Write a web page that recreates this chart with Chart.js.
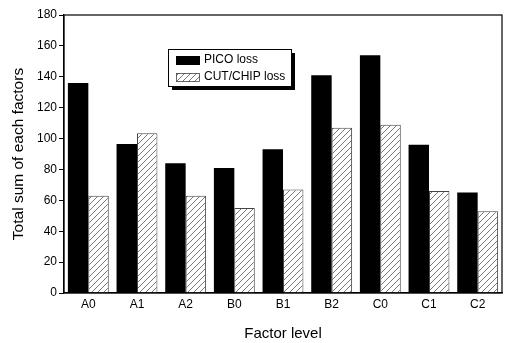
<!DOCTYPE html>
<html>
<head>
<meta charset="utf-8">
<script src="https://cdn.jsdelivr.net/npm/chart.js@4"></script>
<style>
  html, body { margin: 0; padding: 0; background: #fff; }
  #wrap { width: 505px; height: 343px; position: relative; }
</style>
</head>
<body>
<div id="wrap"><canvas id="bar-factors"></canvas></div>
<script>
const categories = ["A0", "A1", "A2", "B0", "B1", "B2", "C0", "C1", "C2"];
const picoLoss = [136, 96.5, 84, 81, 93, 141, 154, 96, 65];
const cutChipLoss = [63, 103.5, 63, 55, 67, 107, 109, 66, 53];
const yTicks = [0, 20, 40, 60, 80, 100, 120, 140, 160, 180];

var canvas = document.getElementById("bar-factors");
var ctx = canvas.getContext("2d");

// diagonal hatch for the second series
const makeHatch = () => {
  var p = document.createElement("canvas");
  p.width = 6;
  p.height = 6;
  var pc = p.getContext("2d");
  pc.fillStyle = "#fff";
  pc.fillRect(0, 0, 6, 6);
  pc.strokeStyle = "#555";
  pc.lineWidth = 0.8;
  pc.beginPath();
  pc.moveTo(0, 6);
  pc.lineTo(6, 0);
  pc.moveTo(-1, 1);
  pc.lineTo(1, -1);
  pc.moveTo(5, 7);
  pc.lineTo(7, 5);
  pc.stroke();
  return ctx.createPattern(p, "repeat");
};
var hatch = makeHatch();

const fontFam = "'Liberation Sans', Arial, sans-serif";

// frame around plot area + legend box with shadow
const framePlugin = {
  id: "frame",
  afterDraw(chart) {
    const c = chart.ctx;
    const a = chart.chartArea;
    c.save();
    c.strokeStyle = "#000";
    c.lineWidth = 1.2;
    c.strokeRect(a.left, a.top, a.right - a.left, a.bottom - a.top);

    // legend
    const lx = 168, ly = 49, lw = 123, lh = 37;
    c.fillStyle = "#000";
    c.fillRect(lx + 4, ly + 4, lw, lh);
    c.fillStyle = "#fff";
    c.fillRect(lx, ly, lw, lh);
    c.lineWidth = 1;
    c.strokeRect(lx + 0.5, ly + 0.5, lw, lh);

    c.fillStyle = "#000";
    c.fillRect(176, 56, 24, 9);
    c.fillStyle = hatch;
    c.fillRect(176, 73, 24, 9);
    c.strokeStyle = "#444";
    c.lineWidth = 0.8;
    c.strokeRect(176.5, 73.5, 23, 8);

    c.fillStyle = "#000";
    c.font = "12px " + fontFam;
    c.textBaseline = "middle";
    c.fillText(chart.data.datasets[0].label, 204, 60);
    c.fillText(chart.data.datasets[1].label, 204, 77);
    c.restore();
  },
};

var chartBar = new Chart(ctx, {
  type: "bar",
  data: {
    labels: categories,
    datasets: [
      {
        label: "PICO loss",
        data: picoLoss,
        backgroundColor: "#000",
        borderColor: "#000",
        borderWidth: 0,
      },
      {
        label: "CUT/CHIP loss",
        data: cutChipLoss,
        backgroundColor: hatch,
        borderColor: "#444",
        borderWidth: 1,
      },
    ],
  },
  options: {
    responsive: true,
    maintainAspectRatio: false,
    animation: false,
    layout: {
      padding: { top: 15, right: 3, left: 0, bottom: 0 },
    },
    datasets: {
      bar: {
        categoryPercentage: 0.84,
        barPercentage: 1.0,
      },
    },
    plugins: {
      legend: { display: false },
      tooltip: { enabled: false },
    },
    scales: {
      x: {
        afterFit: function (scale) {
          scale.height = 50;
        },
        grid: {
          display: false,
          drawTicks: false,
        },
        border: { display: true, color: "#000", width: 1.2 },
        ticks: {
          color: "#000",
          padding: 4,
          font: { size: 12, family: fontFam },
        },
        title: {
          display: true,
          text: "Factor level",
          color: "#000",
          padding: { top: 12, bottom: 0 },
          font: { size: 15, family: fontFam },
        },
      },
      y: {
        min: 0,
        max: 180,
        afterFit: function (scale) {
          scale.width = 64;
        },
        afterBuildTicks: function (scale) {
          scale.ticks = yTicks.map((v) => ({ value: v }));
        },
        grid: {
          drawOnChartArea: false,
          drawTicks: true,
          tickLength: 5,
          color: "#000",
        },
        border: { display: true, color: "#000", width: 1.2 },
        ticks: {
          color: "#000",
          padding: 2,
          font: { size: 12, family: fontFam },
        },
        title: {
          display: true,
          text: "Total sum of each factors",
          color: "#000",
          padding: { top: 9, bottom: 4 },
          font: { size: 15.5, family: fontFam },
        },
      },
    },
  },
  plugins: [framePlugin],
});
</script>
</body>
</html>
